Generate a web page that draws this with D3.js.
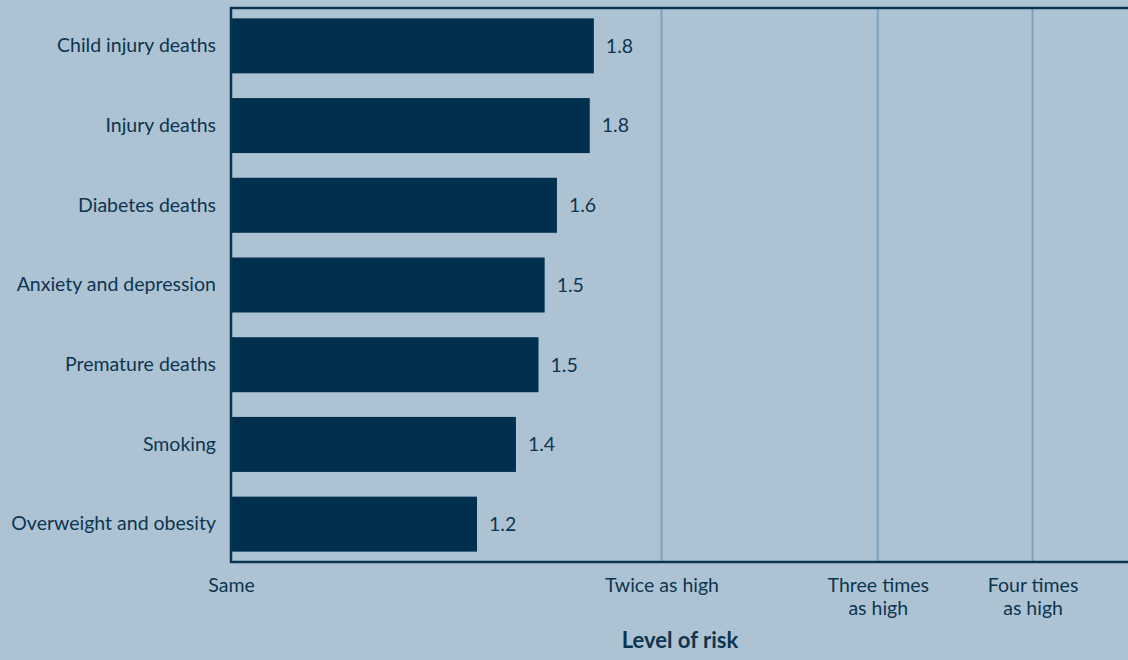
<!DOCTYPE html>
<html>
<head>
<meta charset="utf-8">
<script src="https://cdn.jsdelivr.net/npm/d3@7"></script>
<style>
  html, body { margin: 0; padding: 0; background: #adc3d3; overflow: hidden; }
  svg { display: block; font-family: Lato, "Open Sans", sans-serif; }
</style>
</head>
<body>
<svg width="1128" height="660"></svg>
<script>
// categories, top to bottom
const categories = [
    "Child injury deaths",
    "Injury deaths",
    "Diabetes deaths",
    "Anxiety and depression",
    "Premature deaths",
    "Smoking",
    "Overweight and obesity"
];
const riskValues = [1.77, 1.75, 1.59, 1.53, 1.50, 1.39, 1.20];
const riskLabels = ["1.8", "1.8", "1.6", "1.5", "1.5", "1.4", "1.2"];

// reference lines
const levelValues = [0, 2.1, 3.155, 3.91];
const levelLabels = [["Same"], ["Twice as high"], ["Three times", "as high"], ["Four times", "as high"]];

const textColor = "#0d3550";
const barColor = "#00304d";
const fontSize = "19.5px";

const svg = d3.select("svg");

const margin = { top: 8, left: 231, bottom: 98 };
const height = 660 - margin.bottom;

const x = d3.scaleLinear()
    .domain([0, 4.4])
    .range([margin.left, margin.left + 4.4 * 205]);

const y = d3.scaleBand()
    .domain(categories)
    .range([margin.top, height])
    .paddingInner(0.31)
    .paddingOuter(0.13);

// gridlines
svg.append("g")
    .selectAll("line")
    .data(levelValues.slice(1))
    .enter().append("line")
    .attr("x1", d => x(d))
    .attr("x2", d => x(d))
    .attr("y1", margin.top)
    .attr("y2", height)
    .attr("stroke", "#7ca2bc")
    .attr("stroke-width", 2);

// bars
svg.append("g")
    .selectAll("rect")
    .data(riskValues)
    .enter().append("rect")
    .attr("x", x(0))
    .attr("y", (d, i) => y(categories[i]))
    .attr("width", d => x(d) - x(0))
    .attr("height", y.bandwidth())
    .attr("fill", barColor);

// value labels
svg.append("g")
    .selectAll("text")
    .data(riskValues)
    .enter().append("text")
    .attr("x", d => x(d) + 12)
    .attr("y", (d, i) => y(categories[i]) + y.bandwidth() / 2)
    .attr("dy", "0.35em")
    .attr("fill", textColor)
    .style("font-size", fontSize)
    .text((d, i) => riskLabels[i]);

// frame
svg.append("path")
    .attr("d", `M${x.range()[1]},${margin.top}H${x(0)}V${height}H${x.range()[1]}`)
    .attr("fill", "none")
    .attr("stroke", "#0b3450")
    .attr("stroke-width", 2.5);

// y axis
const yAxis = svg.append("g")
    .attr("transform", `translate(${x(0) - 1},0)`)
    .call(d3.axisLeft(y).tickSize(0).tickPadding(14));
yAxis.select(".domain").remove();
yAxis.selectAll("text")
    .attr("fill", textColor)
    .style("font-size", fontSize)
    .style("font-family", "Lato, 'Open Sans', sans-serif");

// x axis (level of risk)
const xAxis = svg.append("g")
    .attr("transform", `translate(0,${height})`)
    .call(d3.axisBottom(x).tickValues(levelValues).tickSize(0).tickPadding(16).tickFormat(""));
xAxis.select(".domain").remove();
xAxis.selectAll(".tick text")
    .attr("dy", null)
    .attr("fill", textColor)
    .style("font-size", fontSize)
    .style("font-family", "Lato, 'Open Sans', sans-serif")
    .each(function(d, i) {
        const t = d3.select(this);
        levelLabels[i].forEach((line, j) => {
            t.append("tspan")
                .attr("x", 0)
                .attr("dy", j === 0 ? "0.71em" : "1.2em")
                .text(line);
        });
    });

svg.append("text")
    .attr("x", 680)
    .attr("y", 648)
    .attr("text-anchor", "middle")
    .attr("fill", textColor)
    .style("font-size", "22px")
    .style("font-weight", "bold")
    .text("Level of risk");
</script>
</body>
</html>
